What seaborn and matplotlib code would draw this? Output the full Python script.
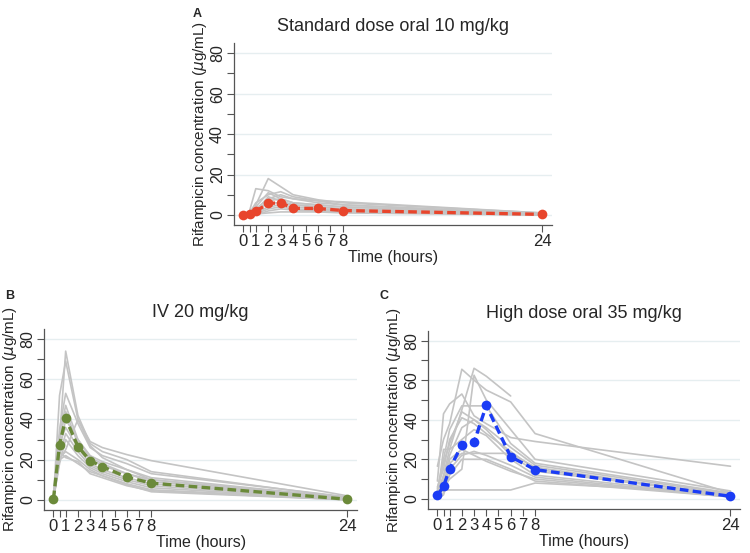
import numpy as np
import pandas as pd
import matplotlib
matplotlib.use("Agg")
import matplotlib.pyplot as plt
import seaborn as sns

# sampling times (hours)
times = [0, 0.5, 1, 2, 3, 4, 6, 8, 24]

# individual profiles, standard dose oral 10 mg/kg
std_indiv = [
    [0, 1, 5, 18, 14, 10, 7.5, 6, 1],
    [0, 2, 13, 12, 9, 8, 7, 6.5, 1],
    [0, 1, 6, 10, 11.5, 9, 7, 5, 0.5],
    [0, 0.5, 3, 8, 10, 8, 6, 5, 0.5],
    [0, 0.5, 4, 11, 8, 6, 5, 4, 0.5],
    [0, 0, 1, 7, 8, 6, 5, 4, 0.3],
    [0, 0, 2, 6, 6, 5, 4, 3, 0.2],
    [0, 0, 1, 4, 5, 4, 3, 2.5, 0.2],
    [0, 0, 0.5, 3, 4, 3, 2.5, 2, 0],
    [0, 0, 0, 2, 3, 2.5, 2, 1.5, 0],
    [0, 0, 2, 9, 7, 5, 4, 3, 0.2],
    [0, 0, 0.5, 1, 1.5, 1.5, 1.5, 1, 0],
]
std_mean = [0, 0.5, 1.8, 5.7, 6.0, 3.3, 3.2, 2.2, 0.3]

# individual profiles, IV 20 mg/kg
iv_indiv = [
    [0, 30, 74, 42, 28, 24, 20, 14, 1],
    [0, 52, 69, 40, 29, 26, 22.5, 19.5, 2],
    [0, 35, 53, 38, 26, 22, 18, 13, 1.5],
    [0, 32, 47, 30, 22, 19, 15, 11, 1],
    [0, 30, 44, 28, 20, 17, 13, 10, 0.5],
    [0, 25, 40, 30, 21, 18, 13, 9, 0.5],
    [0, 20, 25, 40, 27, 21, 15, 10, 1],
    [0, 28, 36, 26, 18, 15, 11, 8, 0.5],
    [0, 22, 33, 24, 17, 14, 10, 7, 0.3],
    [0, 18, 30, 22, 16, 13, 9, 6, 0.2],
    [0, 21, 24, 20, 15, 12, 8, 5, 0.2],
    [0, 20, 22, 18, 14, 12, 7.5, 4, 0],
    [0, 24, 21, 19, 13, 11, 7, 4.5, 0],
]
iv_mean = [0.3, 27.5, 40.5, 26.5, 19.5, 16.5, 11.3, 8.3, 0.3]

# individual profiles, high dose oral 35 mg/kg
high_indiv = [
    [16.5, 30, 38, 65.5, 60, 55, 49, 33, 3],
    [3, 12, 25, 45, 66, 62, 52, np.nan, np.nan],
    [9, 43, 48, 53, 42, 38, 31, 29, 16.5],
    [2, 6, 10, 15, 62.5, 50, 35, 20, 4],
    [5, 20, 35, 47, 47, 47, 28, 18, 3],
    [4, 18, 28, 44, 40, 36, 26, 17, 2.5],
    [6, 15, 30, 41, 38, 33, 24, 15, 2],
    [2, 10, 22, 36, 40, 35, 22, 14, 2],
    [1, 25, 25, 30, 35, 32, 20, 12, 1.5],
    [3, 8, 18, 23, 23, 23, 23, 16, 1.5],
    [1, 5, 15, 22, 24, 22, 17, 11, 1],
    [2, 4.5, 4.5, 4.5, 4.5, 4.5, 4.5, 8, 3],
    [0, 2, 12, 20, 20, 20, 15, 9, 1],
    [1, 3, 20, 25, 22, 19, 14, 10, 1],
]
high_mean = [1.8, 6.3, 15.2, 27.2, 28.5, 47.2, 21.3, 14.8, 1.3]

x_ticks = [0, 0.5, 1, 2, 3, 4, 5, 6, 7, 8, 24]
x_ticklabels = ["0", "", "1", "2", "3", "4", "5", "6", "7", "8", "24"]

sns.set_theme(style="white")
plt.rcParams["font.family"] = ["Liberation Sans", "DejaVu Sans"]


def long_frame(indiv):
    rows = []
    for i, prof in enumerate(indiv):
        for t, c in zip(times, prof):
            rows.append({"id": i, "time": t, "conc": c})
    return pd.DataFrame(rows).dropna()


def draw_panel(ax, indiv, mean, color, title):
    df = long_frame(indiv)
    sns.lineplot(data=df, x="time", y="conc", units="id", estimator=None,
                 color="#c4c4c4", linewidth=1.2, ax=ax, legend=False)
    mdf = pd.DataFrame({"time": times, "conc": mean})
    sns.lineplot(data=mdf, x="time", y="conc", color=color, linewidth=2.4,
                 linestyle=(0, (2.6, 1.3)), marker="o", markersize=7,
                 markeredgewidth=0, ax=ax, legend=False)

    ax.set_xlim(-0.75, 24.8)
    ax.set_ylim(-5, 85)
    ax.set_yticks([0, 20, 40, 60, 80])
    ax.set_yticks([10, 30, 50, 70], minor=True)
    ax.set_xticks(x_ticks)
    ax.set_xticklabels(x_ticklabels)
    ax.grid(axis="y", color="#e6eef0", linewidth=1)
    ax.tick_params(axis="both", which="both", direction="out", length=5,
                   width=0.8, color="#555555", labelsize=11.5, pad=1.5,
                   bottom=True, left=True)
    ax.tick_params(axis="x", labelsize=12)
    ax.tick_params(axis="y", labelrotation=90)
    for lab in ax.get_yticklabels():
        lab.set_va("center")
    for s in ["top", "right"]:
        ax.spines[s].set_visible(False)
    for s in ["left", "bottom"]:
        ax.spines[s].set_color("#555555")
        ax.spines[s].set_linewidth(0.9)
    ax.set_xlabel("Time (hours)", fontsize=11.5, labelpad=1)
    ax.set_ylabel("Rifampicin concentration ($\\mu$g/mL)", fontsize=11, labelpad=1)
    ax.set_title(title, fontsize=13, pad=9)


fig = plt.figure(figsize=(7.5, 5.53), dpi=100)
ax_a = fig.add_axes([0.312, 0.593, 0.424, 0.329])
ax_b = fig.add_axes([0.059, 0.078, 0.417, 0.327])
ax_c = fig.add_axes([0.571, 0.080, 0.416, 0.322])

draw_panel(ax_a, std_indiv, std_mean, "#e8452c", "Standard dose oral 10 mg/kg")
draw_panel(ax_b, iv_indiv, iv_mean, "#6b8a3a", "IV 20 mg/kg")
draw_panel(ax_c, high_indiv, high_mean, "#1b3cf5", "High dose oral 35 mg/kg")

# panel letters
for lx, ly, letter in [(193, 8, "A"), (5, 290, "B"), (379, 290, "C")]:
    fig.text(lx / 750, 1 - ly / 553, letter, fontsize=9, fontweight="bold",
             ha="left", va="top")

fig.savefig("out.png", dpi=100, facecolor="white")
